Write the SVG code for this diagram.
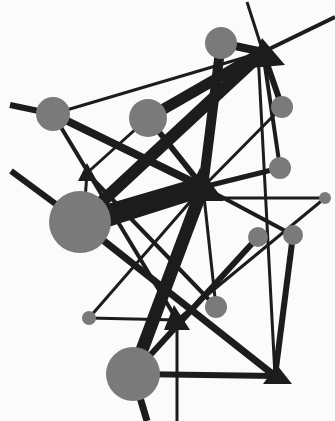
<svg xmlns="http://www.w3.org/2000/svg" width="335" height="421" viewBox="0 0 335 421">
<style>
.e{stroke:#1c1c1c;stroke-linecap:butt;fill:none}
.c{fill:#7a7a7a}
.t{fill:#1c1c1c}
</style>
<rect width="335" height="421" fill="#fbfbfb"/>
<g id="edges">
<line class="e" x1="10" y1="105" x2="53" y2="114" stroke-width="6"/>
<line class="e" x1="53" y1="114" x2="263" y2="52" stroke-width="3"/>
<line class="e" x1="53" y1="114" x2="203" y2="187" stroke-width="8"/>
<line class="e" x1="53" y1="114" x2="177" y2="320" stroke-width="4"/>
<line class="e" x1="148" y1="118" x2="263" y2="52" stroke-width="11"/>
<line class="e" x1="148" y1="118" x2="87" y2="173" stroke-width="3"/>
<line class="e" x1="148" y1="118" x2="203" y2="187" stroke-width="6"/>
<line class="e" x1="263" y1="52" x2="80" y2="222" stroke-width="12"/>
<polygon class="t" points="80,212 203,176 203,197 80,236"/>
<line class="e" x1="11" y1="171" x2="80" y2="222" stroke-width="6"/>
<line class="e" x1="80" y1="222" x2="275" y2="376" stroke-width="7"/>
<line class="e" x1="87" y1="173" x2="85" y2="200" stroke-width="3"/>
<line class="e" x1="87" y1="173" x2="216" y2="307" stroke-width="4"/>
<line class="e" x1="221" y1="43" x2="263" y2="52" stroke-width="8"/>
<line class="e" x1="221" y1="43" x2="203" y2="187" stroke-width="10"/>
<line class="e" x1="263" y1="52" x2="247" y2="2" stroke-width="3"/>
<line class="e" x1="263" y1="52" x2="335" y2="17" stroke-width="4"/>
<line class="e" x1="263" y1="52" x2="282" y2="107" stroke-width="6"/>
<line class="e" x1="263" y1="52" x2="280" y2="168" stroke-width="4"/>
<line class="e" x1="258" y1="52" x2="275" y2="376" stroke-width="3"/>
<line class="e" x1="203" y1="187" x2="282" y2="107" stroke-width="3"/>
<line class="e" x1="203" y1="187" x2="280" y2="168" stroke-width="5"/>
<line class="e" x1="203" y1="198" x2="325" y2="198" stroke-width="3"/>
<line class="e" x1="203" y1="187" x2="293" y2="235" stroke-width="4"/>
<line class="e" x1="203" y1="187" x2="216" y2="307" stroke-width="3"/>
<line class="e" x1="203" y1="187" x2="133" y2="374" stroke-width="13"/>
<line class="e" x1="258" y1="237" x2="133" y2="374" stroke-width="6"/>
<line class="e" x1="325" y1="198" x2="177" y2="320" stroke-width="3"/>
<line class="e" x1="293" y1="235" x2="275" y2="376" stroke-width="6"/>
<line class="e" x1="133" y1="374" x2="275" y2="376" stroke-width="6"/>
<line class="e" x1="177" y1="320" x2="177" y2="421" stroke-width="3"/>
<line class="e" x1="133" y1="374" x2="147" y2="421" stroke-width="7"/>
<line class="e" x1="89" y1="318" x2="177" y2="320" stroke-width="3"/>
<line class="e" x1="89" y1="318" x2="203" y2="187" stroke-width="3"/>
</g>
<g id="T1"><polygon class="t" points="262,38 285,65 250,68"/></g>
<g id="H"><polygon class="t" points="200,168 224,201 184,201"/></g>
<g id="Tleft"><polygon class="t" points="87,163 78,181 97,181"/></g>
<g id="Tbot"><polygon class="t" points="174,305 164,330 190,330"/></g>
<g id="T4"><polygon class="t" points="277,365 263,384 292,384"/></g>
<g id="Ctop"><circle class="c" cx="221" cy="43" r="16"/></g>
<g id="Cleft"><circle class="c" cx="53" cy="114" r="17"/></g>
<g id="C3"><circle class="c" cx="148" cy="118" r="19"/></g>
<g id="Cr1"><circle class="c" cx="282" cy="107" r="11"/></g>
<g id="Cr2"><circle class="c" cx="280" cy="168" r="11"/></g>
<g id="Cr3"><circle class="c" cx="325" cy="198" r="6"/></g>
<g id="C7"><circle class="c" cx="258" cy="237" r="10"/></g>
<g id="C8"><circle class="c" cx="293" cy="235" r="10"/></g>
<g id="Cbig"><circle class="c" cx="80" cy="222" r="31"/></g>
<g id="Csm"><circle class="c" cx="89" cy="318" r="7"/></g>
<g id="C11"><circle class="c" cx="216" cy="307" r="11"/></g>
<g id="Cbot"><circle class="c" cx="133" cy="374" r="27"/></g>
</svg>
